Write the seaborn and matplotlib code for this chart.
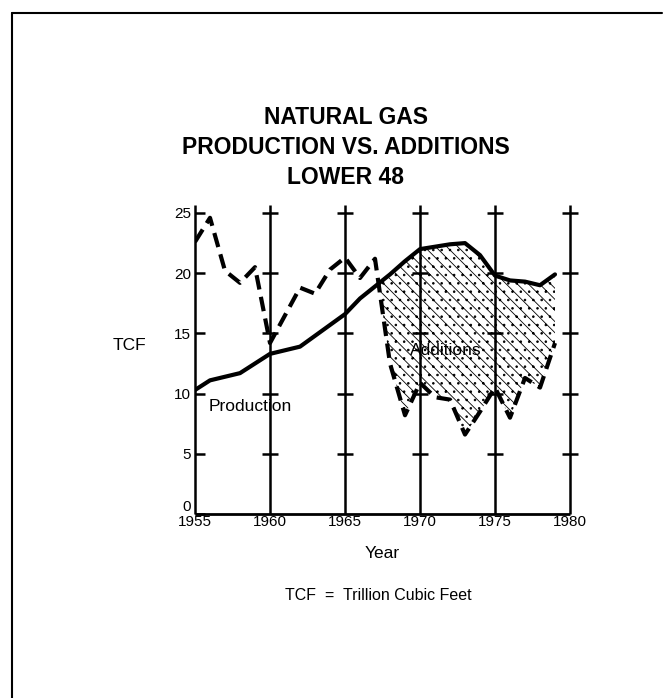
import numpy as np
import pandas as pd
import matplotlib
matplotlib.use("Agg")
import matplotlib.pyplot as plt
from matplotlib.lines import Line2D
import seaborn as sns

# ---- data (TCF per year) ----
years = list(range(1955, 1980))
production = [10.3, 11.1, 11.4, 11.7, 12.5, 13.3, 13.6, 13.9, 14.8, 15.7,
              16.6, 17.9, 18.9, 19.9, 21.0, 22.0, 22.2, 22.4, 22.5, 21.5,
              19.8, 19.4, 19.3, 19.0, 19.9]
additions = [22.6, 24.6, 20.2, 19.2, 20.5, 14.2, 16.5, 18.8, 18.3, 20.3,
             21.3, 19.6, 21.2, 12.5, 8.2, 10.9, 9.7, 9.5, 6.6, 8.5,
             10.5, 8.0, 11.3, 10.5, 14.2]
x_ticks = [1955, 1960, 1965, 1970, 1975, 1980]
y_ticks = [0, 5, 10, 15, 20, 25]

df = pd.DataFrame({"year": years, "production": production, "additions": additions})

sns.set_theme(style="white")
plt.rcParams["font.family"] = ["Liberation Sans", "DejaVu Sans"]
plt.rcParams["hatch.linewidth"] = 0.6
plt.rcParams["text.color"] = "black"
plt.rcParams["xtick.color"] = "black"
plt.rcParams["ytick.color"] = "black"

W, H = 672, 698
fig = plt.figure(figsize=(W / 100, H / 100), dpi=100)


def fx(px):
    return px / W


def fy(py):
    return 1 - py / H


ax = fig.add_axes([fx(195), fy(514), fx(570) - fx(195), fy(213) - fy(514)])
ax.set_xlim(1955, 1980)
ax.set_ylim(0, 25)

# hatched gap where production runs above additions
ax.fill_between(df["year"], df["additions"], df["production"],
                where=df["additions"] < df["production"], interpolate=True,
                facecolor="white", edgecolor="black", hatch="\\\\\\..", linewidth=0)

sns.lineplot(data=df, x="year", y="production", color="black", lw=3, ax=ax)
sns.lineplot(data=df, x="year", y="additions", color="black", lw=3,
             linestyle=(0, (3.5, 1.8)), ax=ax)

# frame: verticals with "+" marks
top = y_ticks[-1] + 0.7
ax.vlines(x_ticks, 0, top, color="black", lw=1.8, clip_on=False)
ax.hlines(0, x_ticks[0], x_ticks[-1], color="black", lw=2, clip_on=False)
xx, yy = np.meshgrid(x_ticks[1:], y_ticks[1:])
ax.plot(xx.ravel(), yy.ravel(), ls="none", marker="_", ms=11, mew=1.8,
        color="black", clip_on=False)
for s in ax.spines.values():
    s.set_visible(False)

ax.set_xticks(x_ticks)
ax.set_yticks(y_ticks)
ax.tick_params(axis="x", length=0, pad=1, labelsize=11)
ax.tick_params(axis="y", direction="in", length=7, width=1.8, pad=3,
               labelsize=11, left=True)
ax.get_yticklabels()[0].set_va("bottom")
ax.set_xlabel("")
ax.set_ylabel("")

ax.text(1958.7, 8.9, "Production", fontsize=12.5, ha="center", va="center")
ax.text(1971.7, 13.6, "Additions", fontsize=12.5, ha="center", va="center")

# titles and labels
for txt, py in [("NATURAL GAS", 118), ("PRODUCTION VS. ADDITIONS", 148), ("LOWER 48", 177)]:
    fig.text(fx(346), fy(py), txt, fontsize=16.5, fontweight="bold", ha="center", va="center")
fig.text(fx(129), fy(345), "TCF", fontsize=12.5, ha="center", va="center")
fig.text(fx(382), fy(553), "Year", fontsize=12.5, ha="center", va="center")
fig.text(fx(378), fy(595), "TCF  =  Trillion Cubic Feet", fontsize=11.5, ha="center", va="center")

# page border
fig.add_artist(Line2D([fx(12), fx(662)], [fy(13), fy(13)], color="black", lw=1.5))
fig.add_artist(Line2D([fx(12), fx(12)], [fy(13), fy(698)], color="black", lw=1.5))

fig.savefig("out.png", dpi=100)
